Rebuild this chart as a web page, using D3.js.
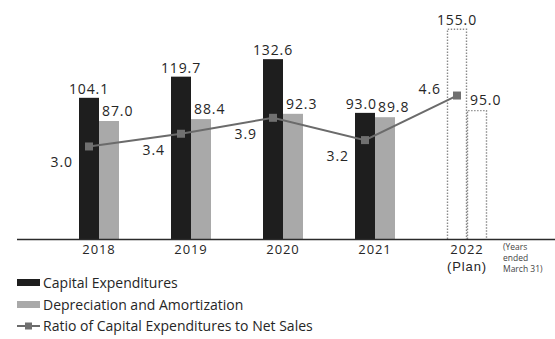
<!DOCTYPE html>
<html>
<head>
<meta charset="utf-8">
<script src="https://cdn.jsdelivr.net/npm/d3@7"></script>
<style>
  html, body { margin: 0; padding: 0; background: #fff; }
  svg { display: block; font-family: "Open Sans", "Noto Sans", sans-serif; }
</style>
</head>
<body>
<svg id="chart" width="555" height="339"></svg>
<script>
// Fiscal years (ended March 31); the last one is the plan
const years = ["2018", "2019", "2020", "2021", "2022"];
const yearSub = ["", "", "", "", "(Plan)"];
const planFlags = [false, false, false, false, true];

// Billions of yen
const capitalExpenditures = [104.1, 119.7, 132.6, 93.0, 155.0];
const depreciation = [87.0, 88.4, 92.3, 89.8, 95.0];

// Percent of net sales
const capexRatio = [3.0, 3.4, 3.9, 3.2, 4.6];

const legendLabels = [
  "Capital Expenditures",
  "Depreciation and Amortization",
  "Ratio of Capital Expenditures to Net Sales"
];
const unitNote = ["(Years", "ended", "March 31)"];

const svg = d3.select("#chart");
const baseY = 239;

const x0 = d3.scaleBand().domain(years).range([53, 513]).padding(0);
const x1 = d3.scaleBand().domain(["capex", "dep"]).range([26, 66]).padding(0);
const yBar = d3.scaleLinear().domain([0, 160]).range([baseY, 22]);
const yRatio = d3.scaleLinear().domain([0, 7.6]).range([242, 0]);

const rows = years.map((yr, i) => ({
  year: yr, sub: yearSub[i], plan: planFlags[i],
  capex: capitalExpenditures[i], dep: depreciation[i], ratio: capexRatio[i]
}));

const DARK = "#1e1e1e", GRAY = "#a9a9a9", LINE = "#6b6b6b", TEXT = "#262626";

// Bars
const groups = svg.append("g").selectAll("g").data(rows).join("g")
  .attr("transform", d => `translate(${x0(d.year)},0)`);

groups.each(function (d) {
  const g = d3.select(this);
  const bars = [
    { key: "capex", v: d.capex, fill: DARK },
    { key: "dep", v: d.dep, fill: GRAY }
  ];
  bars.forEach(b => {
    const bx = x1(b.key), bw = x1.bandwidth(), top = yBar(b.v);
    if (!d.plan) {
      g.append("rect").attr("x", bx).attr("y", top)
        .attr("width", bw).attr("height", baseY - top).attr("fill", b.fill);
    } else {
      // planned figures: dotted outlines only
      const p = d3.path();
      p.moveTo(bx + 0.5, baseY);
      p.lineTo(bx + 0.5, top + 0.5);
      p.lineTo(bx + bw - 0.5, top + 0.5);
      p.lineTo(bx + bw - 0.5, baseY);
      g.append("path").attr("d", p.toString()).attr("fill", "none")
        .attr("stroke", "#8a8a8a").attr("stroke-width", 1.4)
        .attr("stroke-dasharray", "1.4,1.6");
    }
  });
});

// Axis baseline
svg.append("line").attr("x1", 17).attr("x2", 555)
  .attr("y1", baseY + 0.5).attr("y2", baseY + 0.5)
  .attr("stroke", "#2b2b2b").attr("stroke-width", 1.5);

// Category labels (year, with a second line for the plan year)
const xAxis = d3.axisBottom(x0).tickSize(0).tickPadding(0);
const axisG = svg.append("g").attr("transform", `translate(0,${baseY})`).call(xAxis);
axisG.select(".domain").remove();
axisG.selectAll(".tick text")
  .attr("y", 15).attr("dy", 0)
  .attr("font-size", 13).attr("fill", TEXT)
  .attr("font-family", "'Open Sans', sans-serif")
  .attr("letter-spacing", 0.9);
axisG.selectAll(".tick").each(function (d, i) {
  if (yearSub[i]) {
    d3.select(this).append("text").attr("y", 32).attr("text-anchor", "middle")
      .attr("font-size", 13).attr("fill", TEXT).attr("letter-spacing", 0.9)
      .text(yearSub[i]);
  }
});

// Unit note
svg.append("text").attr("x", 503).attr("y", 250)
  .attr("font-size", 8.5).attr("fill", "#444")
  .selectAll("tspan").data(unitNote).join("tspan")
  .attr("x", 503).attr("dy", (d, i) => i === 0 ? 0 : 11).text(d => d);

// Bar value labels
const labelFont = 14;
rows.forEach(d => {
  const gx = x0(d.year);
  const depX = gx + x1("dep");
  const depLabel = svg.append("text")
    .attr("x", depX + 3).attr("y", yBar(d.dep) - 5)
    .attr("font-size", labelFont).attr("fill", TEXT).attr("letter-spacing", 0.9)
    .text(d.dep.toFixed(1));
  const capCx = gx + x1("capex") + x1.bandwidth() / 2;
  const capLabel = svg.append("text")
    .attr("x", capCx).attr("y", yBar(d.capex) - 4)
    .attr("text-anchor", "middle")
    .attr("font-size", labelFont).attr("fill", TEXT).attr("letter-spacing", 0.9)
    .text(d.capex.toFixed(1));
  // keep the two labels apart when the bars are of similar height
  const cb = capLabel.node().getBBox();
  const db = depLabel.node().getBBox();
  const vOverlap = cb.y < db.y + db.height && db.y < cb.y + cb.height;
  if (vOverlap && cb.x + cb.width > db.x - 1) {
    capLabel.attr("x", capCx - (cb.x + cb.width - (db.x - 1)));
  }
});

// Ratio line
const lineX = d => x0(d.year) + x1("capex") + x1.bandwidth() / 2;
svg.append("path").datum(rows)
  .attr("d", d3.line().x(lineX).y(d => yRatio(d.ratio)))
  .attr("fill", "none").attr("stroke", LINE).attr("stroke-width", 2);

svg.append("g").selectAll("rect").data(rows).join("rect")
  .attr("x", d => lineX(d) - 4).attr("y", d => yRatio(d.ratio) - 4)
  .attr("width", 8).attr("height", 8).attr("fill", "#707070");

svg.append("g").selectAll("text").data(rows).join("text")
  .attr("x", d => lineX(d) - 16)
  .attr("y", (d, i) => i === rows.length - 1 ? yRatio(d.ratio) - 2 : yRatio(d.ratio) + 21)
  .attr("text-anchor", "end")
  .attr("font-size", labelFont).attr("fill", TEXT).attr("letter-spacing", 0.9)
  .text(d => d.ratio.toFixed(1));

// Legend
const legend = svg.append("g");
const legY = [283, 305, 326];
legendLabels.forEach((lab, i) => {
  const y = legY[i];
  if (i < 2) {
    legend.append("rect").attr("x", 17).attr("y", y - 4)
      .attr("width", 23).attr("height", 7).attr("fill", i === 0 ? DARK : GRAY);
  } else {
    legend.append("line").attr("x1", 17).attr("x2", 40).attr("y1", y).attr("y2", y)
      .attr("stroke", LINE).attr("stroke-width", 2);
    legend.append("rect").attr("x", 25).attr("y", y - 3.5)
      .attr("width", 7).attr("height", 7).attr("fill", "#707070");
  }
  legend.append("text").attr("x", 43).attr("y", y + 5)
    .attr("font-size", 14).attr("fill", TEXT)
    .text(lab);
});
</script>
</body>
</html>
